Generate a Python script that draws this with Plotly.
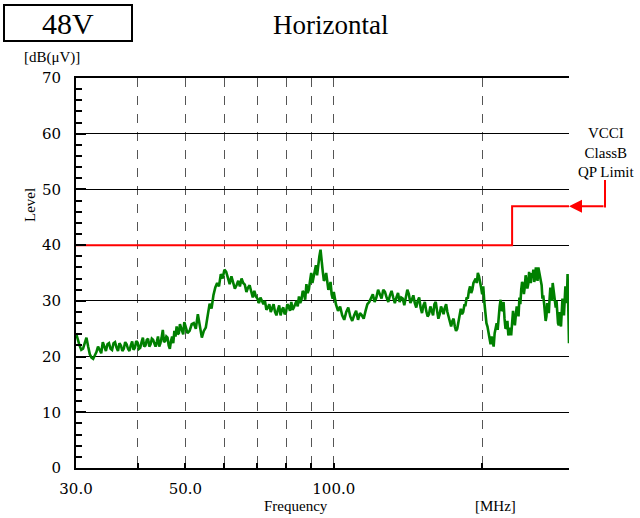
import numpy as np
import plotly.graph_objects as go

# Measured radiated emission, horizontal polarisation (MHz, dB(uV))
FREQ_30_50 = [30.0, 30.25, 30.5, 30.75, 31.0, 31.25, 31.5, 31.75,
              32.0, 32.25, 32.5, 32.75, 33.0, 33.25, 33.5, 33.75,
              34.0, 34.25, 34.5, 34.75, 35.0, 35.25, 35.5, 35.75,
              36.0, 36.25, 36.5, 36.75, 37.0, 37.25, 37.5, 37.75,
              38.0, 38.25, 38.5, 38.75, 39.0, 39.25, 39.5, 39.75,
              40.0, 40.25, 40.5, 40.75, 41.0, 41.25, 41.5, 41.75,
              42.0, 42.25, 42.5, 42.75, 43.0, 43.25, 43.5, 43.75,
              44.0, 44.25, 44.5, 44.75, 45.0, 45.25, 45.5, 45.75,
              46.0, 46.25, 46.5, 46.75, 47.0, 47.25, 47.5, 47.75,
              48.0, 48.25, 48.5, 48.75, 49.0, 49.25, 49.5, 49.75, 50.0]
LEVEL_30_50 = [24.2, 23.0, 22.0, 21.2, 21.4, 22.4, 23.4, 21.8,
               20.4, 19.8, 19.6, 20.2, 20.8, 21.8, 21.2, 20.6,
               22.6, 21.6, 21.0, 22.2, 22.4, 21.4, 21.2, 22.4,
               22.6, 21.6, 21.0, 22.4, 22.0, 21.0, 21.4, 22.6,
               22.2, 21.4, 21.0, 22.0, 22.7, 21.2, 21.6, 22.8,
               22.5, 21.4, 21.6, 22.6, 23.4, 21.8, 22.0, 23.0,
               23.2, 21.8, 22.2, 23.2, 23.0, 22.4, 21.8, 22.6,
               23.6, 21.8, 22.4, 23.4, 24.8, 22.6, 22.8, 23.6,
               23.4, 22.0, 21.4, 22.8, 23.6, 22.4, 24.6, 23.6,
               25.4, 24.0, 24.2, 25.8, 25.2, 24.2, 24.0, 26.2, 25.6]

FREQ_50_100 = [50.5, 51.0, 51.5, 52.0, 52.5, 53.0, 53.5, 54.0, 54.5, 55.0,
               55.5, 56.0, 56.5, 57.0, 57.5, 58.0, 58.5, 59.0, 59.5, 60.0,
               60.5, 61.0, 61.5, 62.0, 62.5, 63.0, 63.5, 64.0, 64.5, 65.0,
               65.5, 66.0, 66.5, 67.0, 67.5, 68.0, 68.5, 69.0, 69.5, 70.0,
               70.5, 71.0, 71.5, 72.0, 72.5, 73.0, 73.5, 74.0, 74.5, 75.0,
               75.5, 76.0, 76.5, 77.0, 77.5, 78.0, 78.5, 79.0, 79.5, 80.0,
               80.5, 81.0, 81.5, 82.0, 82.5, 83.0, 83.5, 84.0, 84.5, 85.0,
               85.5, 86.0, 86.5, 87.0, 87.5, 88.0, 88.5, 89.0, 89.5, 90.0,
               90.5, 91.0, 91.5, 92.0, 92.5, 93.0, 93.5, 94.0, 94.5, 95.0,
               95.5, 96.0, 96.5, 97.0, 97.5, 98.0, 98.5, 99.0, 99.5, 100.0]
LEVEL_50_100 = [24.2, 24.6, 25.8, 26.0, 25.0, 27.6, 25.4, 23.4, 24.6, 25.2,
                27.4, 29.5, 28.6, 31.0, 32.4, 33.2, 32.6, 34.8, 34.0, 35.6,
                35.2, 34.0, 33.0, 34.4, 33.4, 32.2, 32.8, 33.6, 32.6, 34.0,
                33.2, 32.9, 31.6, 32.4, 32.8, 31.4, 30.6, 31.8, 30.8, 30.4,
                29.6, 30.6, 29.8, 29.4, 30.0, 28.4, 28.8, 29.4, 28.0, 28.8,
                29.4, 28.0, 27.4, 28.4, 29.2, 27.4, 28.4, 28.8, 27.6, 28.0,
                29.4, 29.0, 28.2, 29.8, 28.4, 28.8, 29.6, 30.0, 29.0, 30.8,
                29.6, 30.2, 31.8, 31.4, 30.2, 33.0, 31.4, 32.0, 33.6, 35.0,
                33.2, 34.4, 35.2, 36.4, 34.6, 37.0, 38.0, 39.2, 36.6, 35.2,
                33.6, 34.0, 35.0, 33.2, 32.0, 32.4, 33.4, 31.2, 30.4, 31.6]

FREQ_100_200 = [101, 102, 103, 104, 105, 106, 107, 108, 109, 110,
                111, 112, 113, 114, 115, 116, 117, 118, 119, 120,
                121, 122, 123, 124, 125, 126, 127, 128, 129, 130,
                131, 132, 133, 134, 135, 136, 137, 138, 139, 140,
                141, 142, 143, 144, 145, 146, 147, 148, 149, 150,
                151, 152, 153, 154, 155, 156, 157, 158, 159, 160,
                161, 162, 163, 164, 165, 166, 167, 168, 169, 170,
                171, 172, 173, 174, 175, 176, 177, 178, 179, 180,
                181, 182, 183, 184, 185, 186, 187, 188, 189, 190,
                191, 192, 193, 194, 195, 196, 197, 198, 199, 200]
LEVEL_100_200 = [29.4, 28.2, 29.0, 27.4, 26.6, 28.0, 28.8, 27.2, 26.4, 27.4,
                 28.2, 26.6, 27.8, 27.4, 26.8, 28.2, 29.4, 29.8, 30.4, 31.2,
                 29.8, 30.6, 32.0, 31.2, 30.4, 32.0, 31.6, 30.6, 29.8, 31.0,
                 31.8, 30.6, 29.6, 30.6, 31.4, 29.8, 30.6, 30.4, 29.2, 30.6,
                 32.0, 31.2, 29.6, 30.2, 31.0, 29.6, 28.8, 30.0, 30.6, 28.8,
                 27.8, 29.2, 29.8, 28.2, 27.2, 27.6, 29.0, 28.2, 27.4, 29.4,
                 29.8, 28.2, 26.8, 27.6, 29.0, 28.4, 27.6, 28.8, 29.4, 28.0,
                 27.0, 26.4, 25.4, 26.4, 26.8, 25.4, 24.6, 25.0, 26.2, 27.4,
                 28.6, 27.6, 28.0, 29.2, 29.2, 30.6, 30.4, 31.8, 32.6, 31.4,
                 32.0, 33.2, 33.8, 34.0, 33.2, 35.0, 34.4, 33.6, 32.4, 31.2]

FREQ_200_300 = [201, 202, 203, 204, 205, 206, 207, 208, 209, 210,
                211, 212, 213, 214, 215, 216, 217, 218, 219, 220,
                221, 222, 223, 224, 225, 226, 227, 228, 229, 230,
                231, 232, 233, 234, 235, 236, 237, 238, 239, 240,
                241, 242, 243, 244, 245, 246, 247, 248, 249, 250,
                251, 252, 253, 254, 255, 256, 257, 258, 259, 260,
                261, 262, 263, 264, 265, 266, 267, 268, 269, 270,
                271, 272, 273, 274, 275, 276, 277, 278, 279, 280,
                281, 282, 283, 284, 285, 286, 287, 288, 289, 290,
                291, 292, 293, 294, 295, 296, 297, 298, 299, 300]
LEVEL_200_300 = [32.6, 29.8, 27.4, 26.0, 25.4, 24.0, 22.8, 22.2, 23.6, 22.8,
                 21.8, 24.2, 25.4, 26.0, 24.8, 27.4, 29.0, 30.2, 28.2, 28.4,
                 29.8, 26.8, 25.0, 25.2, 26.4, 23.8, 24.6, 25.2, 23.8, 27.0,
                 28.2, 26.6, 25.6, 27.4, 29.0, 28.6, 27.2, 30.6, 29.4, 32.0,
                 33.4, 33.0, 31.2, 32.4, 34.6, 33.6, 32.2, 33.0, 35.2, 34.0,
                 33.2, 35.0, 34.4, 35.6, 33.4, 34.0, 36.0, 35.2, 33.6, 36.0,
                 35.0, 34.6, 33.6, 32.8, 30.4, 31.0, 29.6, 28.4, 26.4, 27.2,
                 29.6, 28.6, 27.8, 30.4, 32.4, 31.6, 30.0, 33.2, 32.2, 31.0,
                 29.6, 28.8, 30.0, 27.4, 26.0, 25.6, 28.0, 26.6, 25.4, 28.0,
                 30.4, 29.0, 27.4, 30.0, 32.6, 32.0, 29.6, 34.8, 28.0, 22.4]

# VCCI Class B quasi-peak limit
LIMIT_FREQ = [30, 230, 230, 300]
LIMIT_LEVEL = [40, 40, 47, 47]

# Axis ticks
X_TICKS = [30, 40, 50, 60, 70, 80, 90, 100, 200, 300]
X_TICK_TEXT = ["30.0", "", "50.0", "", "", "", "", "100.0", "", ""]
Y_TICKS = [0, 10, 20, 30, 40, 50, 60, 70]

freq = FREQ_30_50 + FREQ_50_100 + FREQ_100_200 + FREQ_200_300
level = LEVEL_30_50 + LEVEL_50_100 + LEVEL_100_200 + LEVEL_200_300

SERIF = "Liberation Serif"
TICKFONT = "DejaVu Serif"

W, H = 640, 518
L, R, T, B = 76, 71, 78, 50
PW, PH = W - L - R, H - T - B


def px(x):
    return (x - L) / PW


def py(y):
    return (H - B - y) / PH


fig = go.Figure()
fig.add_trace(go.Scatter(x=freq, y=level, mode="lines",
                         line=dict(color="#008000", width=2.6),
                         hoverinfo="skip", showlegend=False))
fig.add_trace(go.Scatter(x=LIMIT_FREQ, y=LIMIT_LEVEL, mode="lines",
                         line=dict(color="#ff0000", width=2),
                         hoverinfo="skip", showlegend=False))

shapes = [
    # solid decade line at 100 MHz
    dict(type="line", xref="x", yref="paper", x0=np.log10(100), x1=np.log10(100),
         y0=0, y1=1, line=dict(color="black", width=1.4), layer="below"),
    # label box
    dict(type="rect", xref="paper", yref="paper", x0=px(4), x1=px(132),
         y0=py(41), y1=py(5), line=dict(color="black", width=2)),
    # leader from limit caption
    dict(type="line", xref="paper", yref="paper", x0=px(605), x1=px(605),
         y0=py(180), y1=py(207.5), line=dict(color="#ff0000", width=2)),
]


def label(text, x, y, size, **kw):
    return dict(text=text, xref="paper", yref="paper", x=px(x), y=py(y),
                xanchor="center", yanchor="middle", showarrow=False,
                font=dict(family=SERIF, size=size, color="black"), **kw)


annotations = [
    label("48V", 68, 23, 30),
    label("Horizontal", 330, 25, 27),
    label("[dB(μV)]", 52, 58, 15),
    label("Level", 30, 205, 15, textangle=-90),
    label("Frequency", 296, 506, 15),
    label("[MHz]", 495, 506, 15),
    label("VCCI<br>ClassB<br>QP Limit", 606, 152, 15, align="center"),
    dict(text="", xref="x", yref="y", x=np.log10(300), y=47,
         ax=36, ay=0, showarrow=True, arrowhead=2, arrowsize=1.3,
         arrowwidth=2, arrowcolor="#ff0000", standoff=0),
]

tickfont = dict(family=TICKFONT, size=15, color="black")

fig.update_layout(
    width=W, height=H,
    margin=dict(l=L, r=R, t=T, b=B, pad=0),
    paper_bgcolor="white", plot_bgcolor="white",
    font=dict(family=TICKFONT, size=15, color="black"),
    shapes=shapes, annotations=annotations,
    xaxis=dict(type="log", range=[np.log10(30), np.log10(300)],
               tickmode="array", tickvals=X_TICKS, ticktext=X_TICK_TEXT,
               ticks="inside", ticklen=5, tickwidth=1.5, tickcolor="black",
               showgrid=True, gridcolor="#555555", gridwidth=1.2, griddash="dash",
               showline=True, linecolor="black", linewidth=2, mirror=True,
               zeroline=False, ticklabelstandoff=6, tickfont=tickfont),
    yaxis=dict(range=[0, 70], tickmode="array", tickvals=Y_TICKS,
               ticks="inside", ticklen=10, tickwidth=2, tickcolor="black",
               showgrid=True, gridcolor="black", gridwidth=1,
               showline=True, linecolor="black", linewidth=2,
               zeroline=False, ticklabelstandoff=10,
               minor=dict(dtick=2, ticks="inside", ticklen=6, tickwidth=1.5,
                          tickcolor="black", showgrid=False),
               tickfont=tickfont),
)

fig.write_html("out.html")
